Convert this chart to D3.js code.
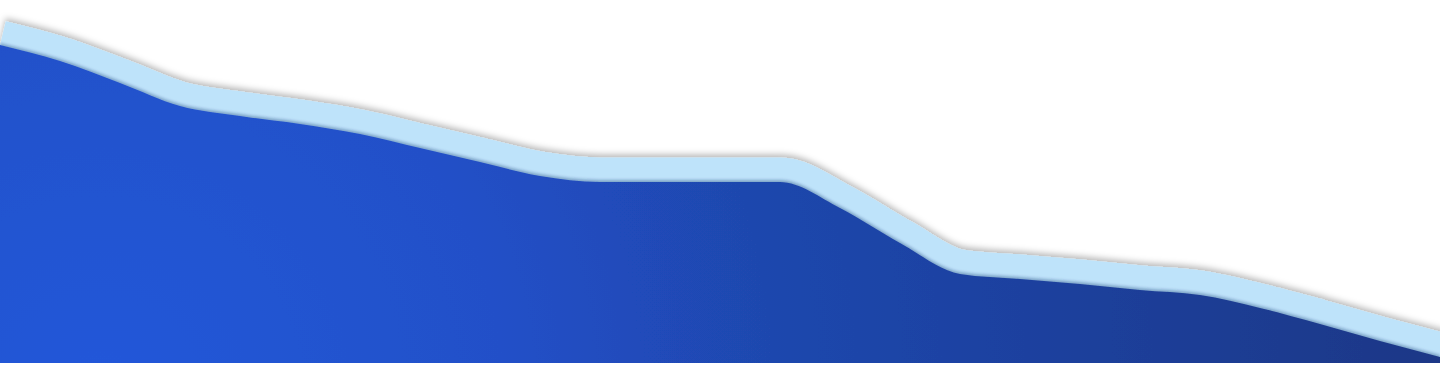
<!DOCTYPE html>
<html>
<head>
<meta charset="utf-8">
<script src="https://cdn.jsdelivr.net/npm/d3@7"></script>
<style>
  html, body { margin: 0; padding: 0; background: #fff; overflow: hidden; }
  svg { display: block; }
</style>
</head>
<body>
<div id="chart"></div>
<script>
// sample positions (every 60px step across the wave)
const steps = d3.range(0, 25);
// height of the wave edge above the baseline
const levels = [318, 302, 280, 257, 247, 239, 229, 215, 201, 187, 181, 181, 181, 181, 155, 120, 89, 84, 79, 73, 68, 55, 39, 22, 6];

const width = 1440, height = 368;
const baseline = 363;

const x = d3.scaleLinear().domain([0, 24]).range([0, width]);
const y = d3.scaleLinear().domain([0, 343]).range([baseline, 20]);

const data = steps.map((s, i) => ({ step: s, level: levels[i] }));

const svg = d3.select("#chart").append("svg")
  .attr("width", width)
  .attr("height", height);

const defs = svg.append("defs");

// fill gradient, bright near lower left, deep navy towards the right
const grad = defs.append("radialGradient")
  .attr("id", "waveFill")
  .attr("gradientUnits", "userSpaceOnUse")
  .attr("cx", 100).attr("cy", 400).attr("r", 1350);
grad.append("stop").attr("offset", "0%").attr("stop-color", "#2458da");
grad.append("stop").attr("offset", "30%").attr("stop-color", "#2150c8");
grad.append("stop").attr("offset", "50%").attr("stop-color", "#1f47ae");
grad.append("stop").attr("offset", "75%").attr("stop-color", "#1c3f9a");
grad.append("stop").attr("offset", "100%").attr("stop-color", "#1b3786");

// keep the band from spilling under the baseline
defs.append("clipPath").attr("id", "plotClip")
  .append("rect")
  .attr("x", 0).attr("y", 0)
  .attr("width", width).attr("height", baseline);

const bandShadow = defs.append("filter")
  .attr("id", "bandShadow")
  .attr("x", "-5%").attr("y", "-30%").attr("width", "110%").attr("height", "160%");
bandShadow.append("feDropShadow")
  .attr("dx", 0).attr("dy", -3)
  .attr("stdDeviation", 3)
  .attr("flood-color", "#000")
  .attr("flood-opacity", 0.28);

const areaShadow = defs.append("filter")
  .attr("id", "areaShadow")
  .attr("x", "-5%").attr("y", "-30%").attr("width", "110%").attr("height", "160%");
areaShadow.append("feDropShadow")
  .attr("dx", 0).attr("dy", -2)
  .attr("stdDeviation", 1.8)
  .attr("flood-color", "#0b2a66")
  .attr("flood-opacity", 0.35);

const line = d3.line()
  .x(d => x(d.step))
  .y(d => y(d.level))
  .curve(d3.curveMonotoneX);

const area = d3.area()
  .x(d => x(d.step))
  .y0(baseline)
  .y1(d => y(d.level))
  .curve(d3.curveMonotoneX);

const g = svg.append("g").attr("clip-path", "url(#plotClip)");

// light band along the edge
g.append("path")
  .datum(data)
  .attr("d", line)
  .attr("fill", "none")
  .attr("stroke", "#bee3fa")
  .attr("stroke-width", 49)
  .attr("stroke-linejoin", "round")
  .attr("filter", "url(#bandShadow)");

// gradient area on top
g.append("path")
  .datum(data)
  .attr("d", area)
  .attr("fill", "url(#waveFill)")
  .attr("filter", "url(#areaShadow)");
</script>
</body>
</html>
